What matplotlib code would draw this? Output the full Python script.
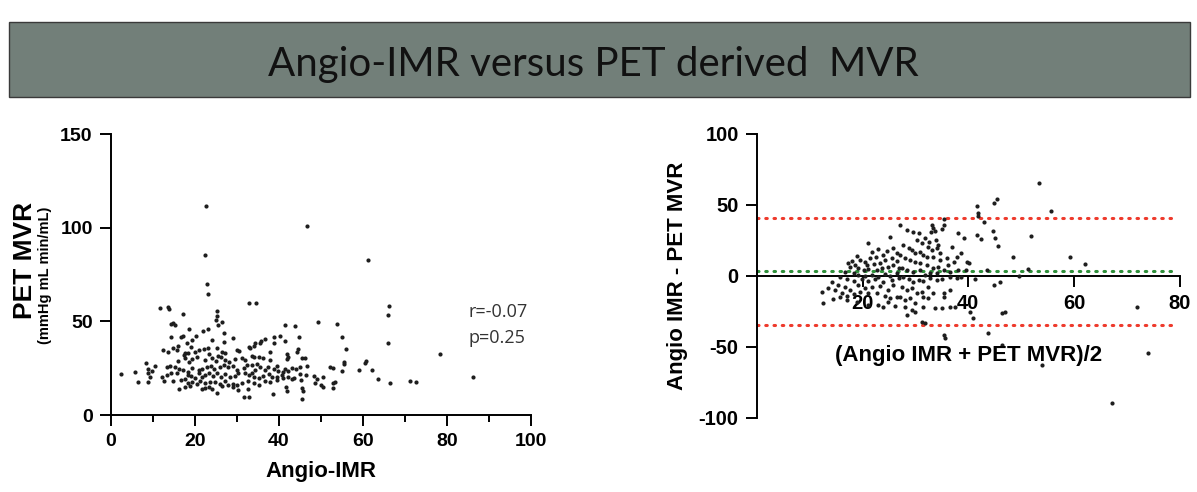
import matplotlib
matplotlib.use("Agg")
import matplotlib.pyplot as plt
from matplotlib.patches import Rectangle
from matplotlib.ticker import MultipleLocator

# ── Data ─────────────────────────────────────────────────────────────────────
TITLE = "Angio-IMR versus PET derived  MVR"

# left panel: Angio-IMR vs PET MVR
imr = [
    23.2, 11.7, 13.7, 13.8, 17.1, 25.2, 25.2, 25.0, 14.9, 15.2, 14.3, 26.4, 25.6, 18.7, 22.0, 23.2,
    14.3, 17.1, 16.7, 20.2, 27.0, 29.1, 27.0, 24.2, 19.4, 18.1, 15.9, 19.1, 14.9, 12.5, 13.6, 15.7,
    17.7, 17.4, 18.5, 20.1, 20.9, 22.1, 23.2, 25.2, 26.4, 27.3, 30.0, 30.6, 16.0, 17.7, 18.7, 19.4,
    20.5, 22.4, 23.4, 24.1, 25.0, 25.6, 26.3, 27.2, 28.2, 29.6, 31.2, 8.3, 10.6, 8.9, 9.8, 13.4,
    14.1, 15.3, 16.3, 17.3, 18.5, 19.4, 20.9, 21.8, 22.8, 23.9, 24.6, 26.0, 26.9, 27.8, 29.2, 30.0,
    31.6, 2.5, 5.7, 8.8, 9.4, 12.1, 13.4, 14.3, 15.7, 18.3, 19.2, 20.1, 21.0, 21.8, 22.4, 23.4,
    24.4, 25.2, 26.3, 27.2, 28.4, 29.5, 30.4, 6.4, 8.9, 12.6, 14.9, 16.7, 17.7, 18.5, 19.4, 20.5,
    21.3, 22.4, 23.7, 24.8, 26.0, 27.2, 28.0, 29.2, 30.0, 31.2, 16.3, 17.7, 18.9, 21.7, 22.4, 23.4,
    24.1, 25.2, 26.4, 29.2, 30.4, 31.6,
    32.9, 34.5, 41.5, 43.8, 49.4, 53.8, 40.2, 38.9, 44.8, 41.5, 55.0, 36.6, 35.7, 35.5, 34.4, 34.2,
    32.8, 33.1, 38.9, 44.5, 44.3, 38.0, 56.0, 33.5, 34.2, 35.2, 36.3, 41.9, 42.1, 41.9, 45.5, 46.3,
    38.0, 32.0, 32.4, 55.6, 55.6, 60.7, 60.4, 52.2, 52.8, 55.1, 59.0, 62.2, 63.7, 33.5, 34.8, 35.5,
    34.4, 33.7, 36.7, 37.4, 38.9, 39.5, 39.9, 40.9, 41.5, 42.1, 43.1, 44.0, 45.1, 46.6, 32.0, 32.8,
    34.0, 35.2, 36.3, 37.6, 38.3, 39.5, 40.8, 42.3, 43.5, 45.1, 46.4, 32.7, 34.0, 35.2, 36.7, 38.0,
    39.5, 40.9, 43.1, 45.3, 48.3, 49.0, 50.4, 48.5, 50.1, 50.6, 52.8, 53.3, 53.0, 32.7, 41.6, 41.9,
    45.5, 45.7, 38.7, 32.8, 45.5,
    66.3, 65.9, 65.9, 78.4, 66.5, 71.3, 72.6, 86.1, 22.7, 46.7, 22.5, 61.3, 23.0,
]
pet_mvr = [
    64.7, 57.4, 57.9, 56.5, 53.8, 55.7, 52.9, 50.8, 49.0, 47.9, 48.4, 49.5, 48.1, 46.1, 45.0, 46.1,
    41.8, 42.2, 41.5, 42.4, 43.6, 41.3, 39.2, 40.1, 40.1, 38.3, 36.9, 36.5, 35.8, 34.7, 33.5, 34.7,
    33.3, 32.0, 32.9, 33.8, 34.7, 35.1, 35.6, 36.0, 33.5, 33.3, 34.7, 34.2, 29.0, 30.3, 28.5, 29.7,
    31.1, 29.4, 32.4, 30.3, 29.0, 31.5, 31.1, 29.4, 28.5, 29.7, 30.3, 27.9, 26.2, 24.4, 23.7, 25.5,
    26.2, 25.5, 24.4, 24.0, 23.1, 24.9, 24.0, 24.4, 25.8, 26.2, 24.4, 25.5, 26.7, 25.8, 26.2, 24.0,
    24.9, 21.9, 22.9, 22.6, 20.1, 20.1, 21.2, 22.2, 22.6, 21.2, 20.8, 19.6, 22.2, 20.1, 21.2, 22.6,
    20.8, 22.2, 20.1, 21.9, 20.1, 20.8, 22.2, 17.8, 17.8, 18.3, 18.3, 18.7, 19.0, 17.2, 17.8, 16.5,
    18.3, 16.9, 17.6, 17.8, 16.5, 18.3, 16.0, 16.5, 16.0, 16.9, 13.7, 15.1, 15.5, 13.7, 14.2, 14.7,
    13.7, 11.5, 15.5, 15.1, 13.3, 9.4,
    59.7, 59.7, 48.3, 47.7, 49.5, 48.8, 42.4, 41.8, 41.7, 39.5, 41.7, 40.4, 39.5, 38.3, 38.3, 36.9,
    36.5, 35.6, 38.3, 35.1, 33.8, 33.8, 35.2, 31.5, 30.8, 31.1, 30.3, 32.6, 31.1, 29.7, 30.6, 30.3,
    29.4, 29.4, 26.7, 28.5, 27.2, 29.0, 27.9, 25.4, 24.9, 23.5, 23.8, 24.0, 19.4, 26.7, 27.2, 25.8,
    24.0, 22.6, 24.0, 25.8, 24.4, 26.2, 23.7, 23.1, 24.4, 23.7, 24.9, 24.4, 25.4, 26.2, 22.6, 21.3,
    20.5, 19.6, 20.8, 21.9, 20.1, 20.5, 21.3, 20.1, 19.6, 21.9, 21.3, 18.3, 16.9, 16.0, 18.3, 17.8,
    18.7, 19.6, 19.0, 18.7, 20.8, 19.0, 20.1, 16.9, 16.0, 14.7, 17.2, 17.8, 14.2, 13.7, 14.7, 13.0,
    14.2, 13.0, 11.2, 9.4, 8.7,
    58.2, 53.4, 38.3, 32.6, 16.9, 18.3, 17.8, 20.5, 111.5, 101.0, 85.5, 82.7, 69.8,
]
r_text = "r=-0.07"
p_text = "p=0.25"

# right panel: Bland-Altman
ba_mean = [
    21.1, 25.1, 21.7, 23.0, 24.6, 25.8, 26.5, 23.9, 22.6, 21.4, 18.9, 19.5, 20.5, 18.0, 17.3, 18.6,
    20.8, 22.1, 23.3, 24.3, 25.5, 26.5, 17.6, 19.2, 20.2, 21.1, 22.7, 23.6, 24.9, 25.8, 26.8, 16.7,
    18.3, 19.2, 20.5, 21.7, 23.0, 24.3, 25.2, 26.5, 15.8, 17.0, 18.3, 19.9, 21.1, 22.4, 23.9, 25.5,
    26.8, 14.2, 15.4, 16.7, 17.6, 19.2, 20.5, 21.7, 23.3, 24.9, 25.8, 12.3, 13.5, 14.8, 16.1, 17.0,
    18.3, 19.5, 21.1, 22.7, 24.3, 25.2, 26.5, 12.6, 14.5, 15.8, 17.0, 18.9, 21.1, 23.0, 23.9, 26.2,
    24.9,
    41.7, 41.9, 41.9, 44.9, 45.4, 27.1, 28.4, 29.6, 30.6, 33.1, 33.4, 33.7, 32.9, 33.9, 32.6, 35.3,
    35.3, 35.0, 38.1, 39.1, 37.9, 38.6, 39.7, 40.2, 41.6, 42.3, 44.6, 45.0, 36.9, 35.9, 37.2, 36.2,
    30.2, 31.2, 31.8, 32.3, 33.1, 34.0, 34.3, 34.7, 27.7, 28.7, 29.3, 29.9, 30.9, 31.5, 32.1, 33.4,
    34.7, 27.1, 28.0, 29.0, 29.9, 30.9, 32.1, 33.4, 34.3, 27.4, 28.4, 29.6, 30.9, 31.8, 32.8, 34.0,
    35.3, 36.5, 38.1, 39.6, 43.5, 41.3, 44.9, 27.7, 28.7, 29.6, 30.6, 31.5, 32.8, 34.0, 35.0, 36.5,
    37.8, 38.7, 27.4, 28.4, 29.3, 30.2, 31.2, 32.4, 33.4, 35.3, 36.5, 27.1, 28.0, 29.0, 29.9, 31.5,
    32.4, 35.3, 28.0, 28.4, 29.3, 29.9, 31.5, 33.7, 35.0, 36.5, 37.5, 40.3, 40.8, 31.2, 31.8, 35.3,
    35.6, 43.8,
    53.3, 55.6, 43.0, 45.6, 45.9, 48.4, 51.8, 51.3, 49.6, 59.3, 62.0, 71.9, 74.0, 53.9, 67.1, 47.0,
    46.4, 46.4,
]
ba_diff = [
    22.8, 27.5, 16.9, 18.6, 17.4, 19.3, 15.8, 14.6, 13.4, 12.2, 13.9, 11.0, 9.9, 10.6, 8.7, 7.5,
    7.5, 8.2, 9.2, 11.0, 12.2, 10.6, 5.9, 5.2, 4.0, 4.5, 4.0, 5.2, 6.3, 7.5, 5.2, 2.8,
    1.7, 0.5, -0.2, 0.5, -0.7, 1.2, -0.2, 1.7, -1.1, -2.6, -3.5, -2.6, -3.5, -2.6, -4.2, -3.0,
    -1.9, -4.2, -6.6, -7.7, -10.1, -6.6, -8.9, -7.7, -7.3, -10.1, -6.6, -11.2, -8.9, -10.1, -12.4, -14.3,
    -12.9, -11.2, -12.0, -12.4, -14.3, -16.0, -14.8, -19.5, -16.6, -14.8, -17.1, -18.3, -20.6, -20.6, -21.8, -21.3,
    -18.3,
    49.1, 43.9, 42.0, 51.4, 53.8, 35.7, 32.2, 31.0, 29.8, 35.7, 33.4, 31.7, 31.0, 25.1, 24.0, 39.7,
    35.7, 32.6, 30.3, 26.3, 13.4, 15.8, 9.9, 9.2, 28.7, 25.6, 31.7, 26.3, 20.4, 12.2, 9.9, 7.5,
    25.1, 22.8, 26.3, 20.4, 18.1, 19.3, 21.6, 15.8, 21.6, 19.3, 18.1, 15.8, 16.9, 14.6, 13.4, 13.4,
    11.0, 14.6, 12.2, 11.0, 9.9, 8.7, 7.5, 5.2, 6.3, 5.2, 4.0, 2.8, 4.0, 0.5, 1.7, 1.7,
    4.0, 2.8, 4.0, 4.0, 4.0, -2.6, -6.6, -1.2, -2.6, -4.2, -3.0, -3.5, -1.9, -3.0, -2.6, -1.2,
    -1.9, -1.2, -7.7, -10.1, -8.9, -12.4, -11.2, -7.7, -12.4, -12.4, -10.1, -14.8, -17.1, -16.0, -19.5, -15.2,
    -16.0, -15.2, -21.8, -27.7, -24.2, -25.3, -21.8, -23.0, -23.0, -22.3, -21.8, -25.3, -30.0, -32.4, -33.5, -41.8,
    -44.1, -40.6,
    65.6, 45.7, 37.5, 20.6, -4.3, 13.0, 27.7, 4.5, 0.0, 13.0, 8.3, -22.0, -54.7, -62.7, -89.5, -25.6,
    -26.3, -49.0,
]
bias = 3.3
loa_upper = 40.4
loa_lower = -34.5

# ── Style ────────────────────────────────────────────────────────────────────
BANNER = "#727f79"
DOT = "#1e1e1e"
RED = "#ee3a2c"
GREEN = "#2f8f3a"
BOLD = dict(family="Liberation Sans", fontweight="bold")
DOTTED = dict(lw=2.2, ls=(0, (0.5, 2.2)), dash_capstyle="round", zorder=2)

plt.rcParams["font.family"] = ["Liberation Sans", "DejaVu Sans"]
plt.rcParams["axes.unicode_minus"] = False   # reference uses plain hyphens

fig = plt.figure(figsize=(11.97, 4.92), dpi=100)

# title banner
fig.patches.append(Rectangle((0.0075, 0.803), 0.9866, 0.1524, transform=fig.transFigure,
                             facecolor=BANNER, edgecolor="#3a3a3a", lw=1.0))
fig.text(0.496, 0.8455, TITLE, ha="center", va="baseline", fontsize=29,
         family=["Lato", "DejaVu Sans"], color="#111111")

# ── Left: scatter ────────────────────────────────────────────────────────────
ax1 = fig.add_axes([0.0925, 0.1565, 0.3511, 0.5705])
ax1.scatter(imr, pet_mvr, s=9, color=DOT, linewidths=0, zorder=3)
ax1.set_xlim(0, 100)
ax1.set_ylim(0, 150)
ax1.set_xticks([0, 20, 40, 60, 80, 100])
ax1.xaxis.set_minor_locator(MultipleLocator(10))
ax1.set_yticks([0, 50, 100, 150])
for side in ("top", "right"):
    ax1.spines[side].set_visible(False)
for side in ("left", "bottom"):
    ax1.spines[side].set_linewidth(1.4)
ax1.tick_params(axis="both", which="major", length=8, width=1.4, pad=5, labelsize=14)
ax1.tick_params(axis="x", which="minor", length=5, width=1.4)
for lab in ax1.get_xticklabels() + ax1.get_yticklabels():
    lab.set_fontweight("bold")
ax1.set_xlabel("Angio-IMR", fontsize=16, labelpad=8, **BOLD)
fig.text(0.021, 0.47, "PET MVR", rotation=90, ha="center", va="center", fontsize=19, **BOLD)
fig.text(0.038, 0.44, "(mmHg mL min/mL)", rotation=90, ha="center", va="center",
         fontsize=10.5, **BOLD)
ax1.text(85.1, 55.2, r_text, ha="left", va="center", fontsize=13, family="Open Sans",
         color="#333333")
ax1.text(85.1, 41.2, p_text, ha="left", va="center", fontsize=13, family="Open Sans",
         color="#333333")

# ── Right: Bland-Altman ──────────────────────────────────────────────────────
ax2 = fig.add_axes([0.6322, 0.151, 0.3536, 0.5773])
ax2.set_xlim(0, 80)
ax2.set_ylim(-100, 100)
ax2.plot([0, 79], [loa_upper, loa_upper], color=RED, **DOTTED)
ax2.plot([0, 79], [loa_lower, loa_lower], color=RED, **DOTTED)
ax2.plot([0, 79], [bias, bias], color=GREEN, **DOTTED)
ax2.scatter(ba_mean, ba_diff, s=9, color=DOT, linewidths=0, zorder=3)
ax2.spines["top"].set_visible(False)
ax2.spines["right"].set_visible(False)
ax2.spines["bottom"].set_position(("data", 0))
ax2.spines["bottom"].set_bounds(0, 80)
for side in ("left", "bottom"):
    ax2.spines[side].set_linewidth(1.4)
ax2.set_xticks([20, 40, 60, 80])
ax2.set_yticks([-100, -50, 0, 50, 100])
ax2.tick_params(axis="both", length=8, width=1.4, pad=5, labelsize=14.5)
for lab in ax2.get_xticklabels() + ax2.get_yticklabels():
    lab.set_fontweight("bold")
ax2.set_ylabel("Angio IMR - PET MVR", fontsize=16, labelpad=8, **BOLD)
ax2.text(40.1, -56, "(Angio IMR + PET MVR)/2", ha="center", va="center", fontsize=16, **BOLD)

fig.savefig("out.png", dpi=100)
